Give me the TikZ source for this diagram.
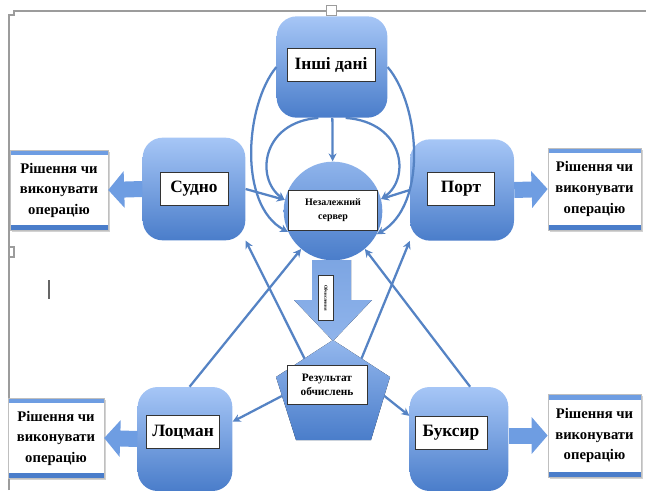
\documentclass[tikz,border=0pt]{standalone}
\usepackage{fontspec}
\setmainfont{Liberation Serif}
\usetikzlibrary{arrows.meta,calc,shadows}

\definecolor{boxTop}{HTML}{A6C6F6}
\definecolor{boxBot}{HTML}{4A7DCA}
\definecolor{lineBlue}{HTML}{5583C4}
\definecolor{fatBlue}{HTML}{6E9DE2}
\definecolor{frameGray}{HTML}{9C9C9C}

\begin{document}
\begin{tikzpicture}[x=0.75pt,y=0.75pt,yscale=-1,xscale=1,
  entity/.style={rounded corners=15pt, top color=boxTop, bottom color=boxBot, draw=none, inner sep=0pt},
  tag/.style={draw=black!80, fill=white, line width=0.5pt, inner sep=0pt, minimum height=25pt, font=\bfseries\fontsize{13}{15}\selectfont},
  outbox/.style={fill=white, draw=black!25, line width=0.3pt, align=center, inner sep=0pt,
    drop shadow={shadow xshift=1.5pt, shadow yshift=-1.5pt, fill=black!35},
    font=\bfseries\fontsize{11}{15.4}\selectfont,
    path picture={
      \draw[fatBlue, line width=8pt] (path picture bounding box.north west) -- (path picture bounding box.north east);
      \draw[boxBot, line width=8pt] (path picture bounding box.south west) -- (path picture bounding box.south east);}},
  link/.style={draw=lineBlue, line width=1.7pt, -{Stealth[length=6pt,width=6pt]}},
  fat/.style={draw=fatBlue, line width=12pt, -{Triangle[width=27pt,length=12pt]}},
]
\useasboundingbox (0,0) rectangle (646,490);

% page frame
\draw[frameGray, line width=1pt] (9,490) -- (9,15) -- (14,15) -- (14,11) -- (646,11);
\draw[frameGray, fill=white, line width=0.6pt] (326,5) rectangle (336,15);
\draw[frameGray, line width=0.8pt] (9,247) -- (14,247) -- (14,257) -- (9,257);
\draw[black!60, line width=1pt] (49,280) -- (49,299);

%Shape: Rounded squares
\node[entity, minimum width=83pt, minimum height=76pt] (inshi) at (332,67) {};
\node[entity, minimum width=77pt, minimum height=77pt] (sudno) at (194,189) {};
\node[entity, minimum width=78pt, minimum height=76pt] (port) at (462,190) {};
\node[entity, minimum width=71pt, minimum height=78pt] (lotsman) at (185,439) {};
\node[entity, minimum width=74pt, minimum height=78pt] (buksyr) at (459,439) {};

%Shape: Circle
\node[circle, top color=boxTop!75!boxBot, bottom color=boxBot, minimum size=74pt, inner sep=0pt] (server) at (333,211) {};

%Shape: Block arrow
\fill[top color=boxTop!55!boxBot, bottom color=boxTop!75!boxBot] (312,260) -- (351,260) -- (351,300) -- (372,300) -- (333,341) -- (294,300) -- (312,300) -- cycle;

%Shape: Pentagon
\coordinate (pTop) at (333,340);
\coordinate (pR) at (390,377);
\coordinate (pBR) at (371,440);
\coordinate (pBL) at (296,440);
\coordinate (pL) at (276,377);
\fill[top color=boxTop!80!boxBot, bottom color=boxBot] (pTop) -- (pR) -- (pBR) -- (pBL) -- (pL) -- cycle;
\coordinate (eUL) at ($(pTop)!0.5!(pL)$);
\coordinate (eUR) at ($(pTop)!0.5!(pR)$);
\coordinate (eLL) at ($(pL)!0.3!(pBL)$);
\coordinate (eLR) at ($(pR)!0.3!(pBR)$);

% links to server
\draw[link] (inshi) -- (server);
\draw[link] (inshi.west) .. controls (245,105) and (238,205) .. (server.205);
\draw[link] (inshi.east) .. controls (420,105) and (428,205) .. (server.-28);
\draw[link] (inshi.255) .. controls (262,122) and (255,178) .. (server.167);
\draw[link] (inshi.285) .. controls (404,122) and (411,178) .. (server.14);
\draw[link] (sudno.east) -- (server.167);
\draw[link] (port.west) -- (server.14);
\draw[link] (lotsman.85) -- (server.230);
\draw[link] (buksyr.78) -- (server.310);

% links from result
\draw[link] (eUL) -- (sudno.south east);
\draw[link] (eUR) -- (port.south west);
\draw[link] (eLL) -- (lotsman.20);
\draw[link] (eLR) -- (buksyr.155);

% Text Node
\node[tag, minimum width=66pt] (inshiT) at (331,65) {Інші дані};
\node[tag, minimum width=51pt] (sudnoT) at (194,189) {Судно};
\node[tag, minimum width=50pt] (portT) at (461,189) {Порт};
\node[tag, minimum width=55pt] (lotsmanT) at (183,432) {Лоцман};
\node[tag, minimum width=54pt] (buksyrT) at (451,433) {Буксир};
\node[tag, minimum width=67pt, minimum height=30pt, align=center, font=\bfseries\fontsize{7.5}{11}\selectfont] (serverT) at (333,210) {Незалежний\\сервер};
\node[tag, rotate=-90, minimum width=34pt, minimum height=11pt, font=\bfseries\fontsize{3.5}{4}\selectfont] (calcT) at (326,298) {Обчислення};
\node[tag, minimum width=60pt, minimum height=29pt, align=center, font=\bfseries\fontsize{8.5}{11}\selectfont] (rezT) at (327,385) {Результат\\обчислень};

% Output boxes
\node[outbox, minimum width=73.5pt, minimum height=60pt] (outSudno) at (59,190) {Рішення чи\\виконувати\\операцію};
\node[outbox, minimum width=70pt, minimum height=61.5pt] (outPort) at (594.5,189) {Рішення чи\\виконувати\\операцію};
\node[outbox, minimum width=72pt, minimum height=60pt] (outLotsman) at (56,438) {Рішення чи\\виконувати\\операцію};
\node[outbox, minimum width=70pt, minimum height=62pt] (outBuksyr) at (594.5,435.5) {Рішення чи\\виконувати\\операцію};

% fat arrows
\draw[fat] (sudno.west) -- (outSudno.east);
\draw[fat] (port.east) -- (outPort.west);
\draw[fat] (lotsman.west) -- (outLotsman.east);
\draw[fat] (buksyr.east |- outBuksyr.west) -- (outBuksyr.west);

\end{tikzpicture}
\end{document}
